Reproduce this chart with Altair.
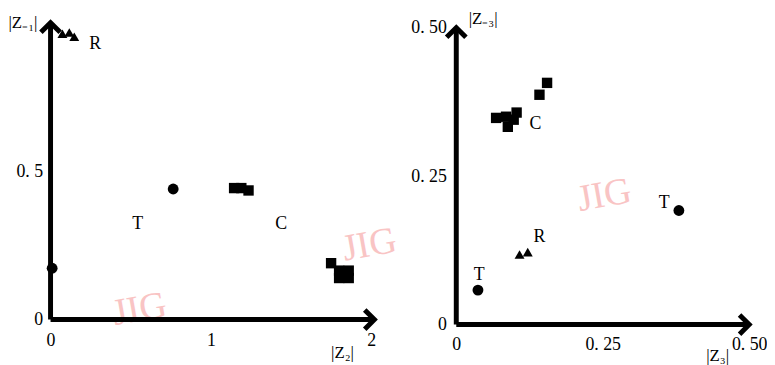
import altair as alt
import pandas as pd

FONT = "Liberation Serif"

# ---------------- left panel (|Z2| vs |Z-1|) ----------------
L_T_x = [0.765, 0.01]
L_T_y = [0.44, 0.173]
L_C_x = [1.145, 1.19, 1.235, 1.75, 1.80, 1.86, 1.80, 1.86]
L_C_y = [0.443, 0.443, 0.435, 0.19, 0.165, 0.165, 0.14, 0.14]
L_R_x = [0.074, 0.117, 0.148]
L_R_y = [0.963, 0.967, 0.953]
L_lab = ["T", "C", "R"]
L_lab_x = [0.543, 1.438, 0.278]
L_lab_y = [0.323, 0.323, 0.927]
L_xticks = [0, 1, 2]
L_xtick_labels = ["0", "1", "2"]
L_yticks = [0, 0.5]
L_ytick_labels = ["0", "0. 5"]
L_xdom = [0, 2]
L_ydom = [0, 1]
L_xend = 2.02
L_yend = 1.0
L_wm_x = [0.556, 1.99]
L_wm_y = [0.033, 0.25]

# ---------------- right panel (|Z3| vs |Z-3|) ----------------
R_T_x = [0.037, 0.38]
R_T_y = [0.058, 0.192]
R_C_x = [0.068, 0.085, 0.103, 0.088, 0.098, 0.142, 0.155]
R_C_y = [0.348, 0.35, 0.357, 0.333, 0.345, 0.387, 0.407]
R_R_x = [0.108, 0.122]
R_R_y = [0.118, 0.122]
R_lab = ["C", "T", "T", "R"]
R_lab_x = [0.135, 0.039, 0.355, 0.142]
R_lab_y = [0.338, 0.083, 0.205, 0.147]
R_xticks = [0, 0.25, 0.5]
R_xtick_labels = ["0", "0. 25", "0. 50"]
R_yticks = [0, 0.25, 0.5]
R_ytick_labels = ["0", "0. 25", "0. 50"]
R_xdom = [0, 0.5]
R_ydom = [0, 0.5083]
R_xend = 0.5
R_yend = 0.5
R_wm_x = [0.253]
R_wm_y = [0.217]


def label_expr(values, labels):
    expr = "''"
    for v, l in reversed(list(zip(values, labels))):
        expr = f"abs(datum.value - {v}) < 1e-9 ? '{l}' : ({expr})"
    return expr


def panel(Tx, Ty, Cx, Cy, Rx, Ry, lab, lab_x, lab_y, xticks, xtl, yticks, ytl,
          xdom, ydom, xend, yend, wmx, wmy, xtitle, ytitle, xt_pos, yt_pos,
          w, h, ylabpad, xlabpad):
    pts = pd.DataFrame({
        "x": Tx + Cx + Rx,
        "y": Ty + Cy + Ry,
        "g": ["T"] * len(Tx) + ["C"] * len(Cx) + ["R"] * len(Rx),
    })
    xs = alt.Scale(domain=xdom, nice=False, zero=False)
    ys = alt.Scale(domain=ydom, nice=False, zero=False)
    xa = alt.Axis(values=xticks, labelExpr=label_expr(xticks, xtl), domain=False,
                  ticks=False, grid=False, labelFont=FONT, labelFontSize=18,
                  labelColor="black", labelPadding=xlabpad, title=xtitle,
                  titleFont=FONT, titleFontSize=17, titleFontWeight="normal",
                  titleColor="black", titleX=xt_pos[0], titleY=xt_pos[1],
                  titleAlign="left", titleBaseline="alphabetic", labelFlush=False,
                  labelOverlap=False)
    ya = alt.Axis(values=yticks, labelExpr=label_expr(yticks, ytl), domain=False,
                  ticks=False, grid=False, labelFont=FONT, labelFontSize=18,
                  labelColor="black", labelPadding=ylabpad, title=ytitle,
                  titleFont=FONT, titleFontSize=17, titleFontWeight="normal",
                  titleColor="black", titleX=yt_pos[0], titleY=yt_pos[1],
                  titleAngle=0, titleAlign="left", titleBaseline="alphabetic",
                  labelFlush=False, labelOverlap=False)

    def X(f="x"):
        return alt.X(f, type="quantitative", scale=xs, axis=xa)

    def Y(f="y"):
        return alt.Y(f, type="quantitative", scale=ys, axis=ya)

    points = alt.Chart(pts).mark_point(filled=True, color="black", opacity=1).encode(
        x=X(), y=Y(),
        shape=alt.Shape("g:N", scale=alt.Scale(domain=["T", "C", "R"],
                                               range=["circle", "square", "triangle-up"]),
                        legend=None),
        size=alt.Size("g:N", scale=alt.Scale(domain=["T", "C", "R"], range=[120, 100, 110]),
                      legend=None),
    )
    labs = alt.Chart(pd.DataFrame({"x": lab_x, "y": lab_y, "t": lab})).mark_text(
        font=FONT, fontSize=18, fontWeight="normal", color="black"
    ).encode(x=X(), y=Y(), text="t:N")

    axes_df = pd.DataFrame({"x": [0, 0], "y": [0, 0], "x2": [xend, 0], "y2": [0, yend]})
    rules = alt.Chart(axes_df).mark_rule(color="black", strokeWidth=5).encode(
        x=X(), y=Y(), x2="x2", y2="y2")
    head_r = alt.Chart(pd.DataFrame({"x": [xend], "y": [0]})).mark_point(
        shape="M-1,-1L0,0L-1,1", size=380, filled=False, color="black",
        strokeWidth=5, opacity=1, strokeJoin="miter").encode(x=X(), y=Y())
    head_u = alt.Chart(pd.DataFrame({"x": [0], "y": [yend]})).mark_point(
        shape="M-1,1L0,0L1,1", size=380, filled=False, color="black",
        strokeWidth=5, opacity=1, strokeJoin="miter").encode(x=X(), y=Y())
    wm = alt.Chart(pd.DataFrame({"x": wmx, "y": wmy, "t": ["JIG"] * len(wmx)})).mark_text(
        font=FONT, fontSize=38, color="#f9c4c4", angle=350
    ).encode(x=X(), y=Y(), text="t:N")

    return alt.layer(wm, rules, head_r, head_u, points, labs).properties(width=w, height=h)


left = panel(L_T_x, L_T_y, L_C_x, L_C_y, L_R_x, L_R_y, L_lab, L_lab_x, L_lab_y,
             L_xticks, L_xtick_labels, L_yticks, L_ytick_labels, L_xdom, L_ydom,
             L_xend, L_yend, L_wm_x, L_wm_y, "|Z₂|", "|Z₋₁|", (283, 38), (-43, 5),
             324, 300, 8, 12)
right = panel(R_T_x, R_T_y, R_C_x, R_C_y, R_R_x, R_R_y, R_lab, R_lab_x, R_lab_y,
              R_xticks, R_xtick_labels, R_yticks, R_ytick_labels, R_xdom, R_ydom,
              R_xend, R_yend, R_wm_x, R_wm_y, "|Z₃|", "|Z₋₃|", (252, 36), (12, 1),
              296, 305, 10, 11)

chart = alt.hconcat(left, right, spacing=86, bounds="flush").properties(
    padding=0, background="white"
).configure_view(stroke=None)

chart.save("out.html", embed_options={"renderer": "svg", "actions": False})
